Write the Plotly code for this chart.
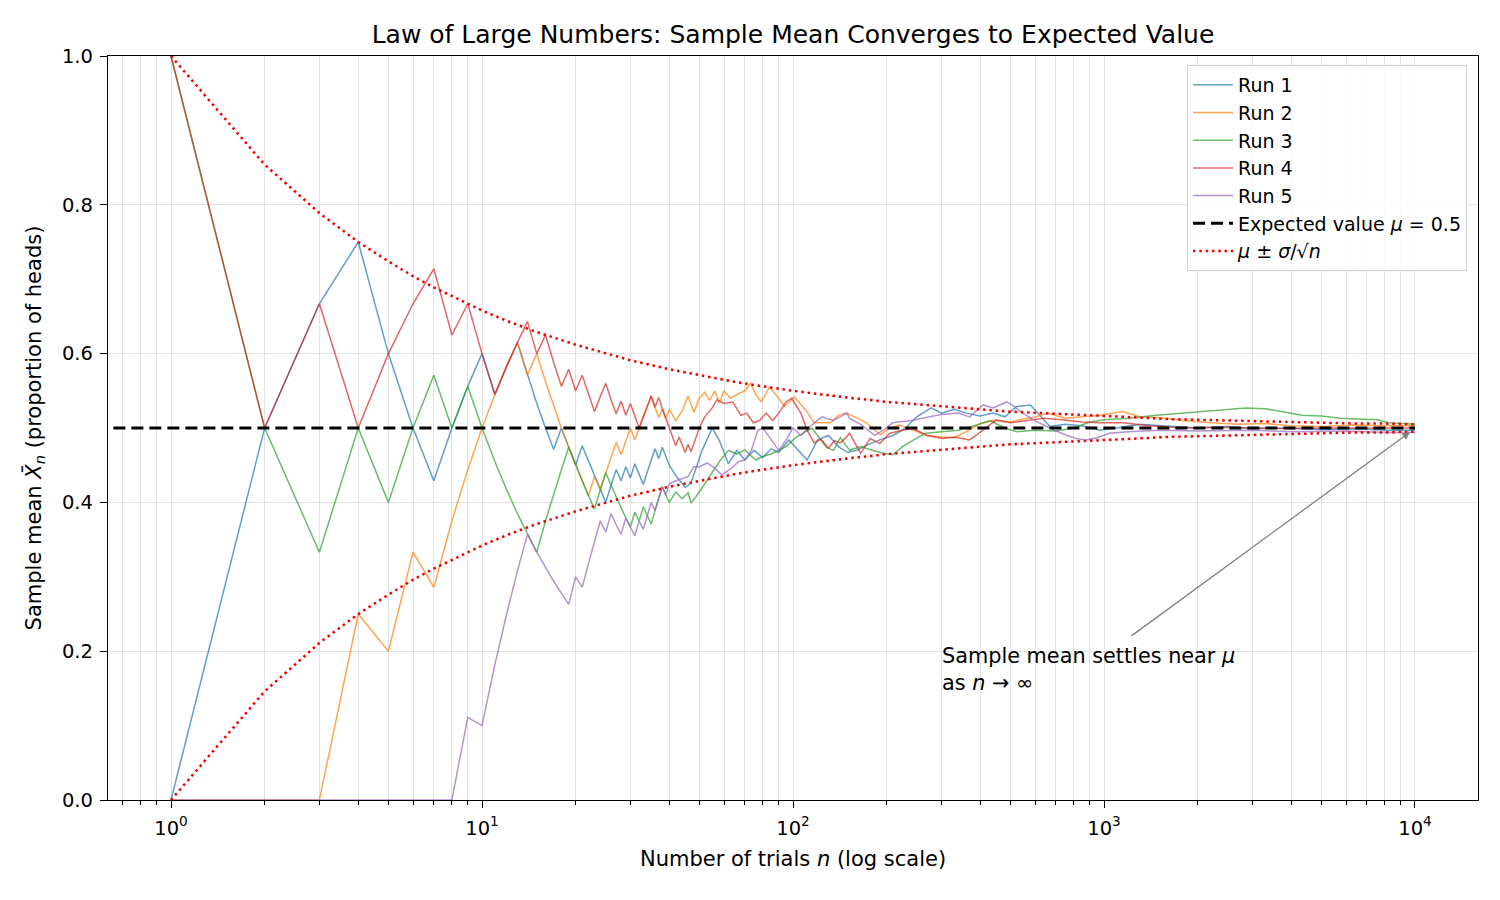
import plotly.graph_objects as go

# ---------------- data ----------------
run1 = [(1,0),(2,.5),(3,.667),(4,.75),(5,.6),(6,.5),(7,.429),(8,.5),(9,.556),(10,.6),
        (11,.545),(12,.583),(13,.615),(14,.571),(15,.533),(16,.5),(17,.471),(18,.5),(19,.474),(20,.45),
        (21,.476),(22,.455),(23,.435),(24,.417),(25,.4),(26,.423),(27,.444),(28,.429),(29,.448),(30,.433),
        (31,.452),(32,.438),(33,.424),(34,.441),(35,.457),(36,.472),(37,.459),(38,.474),(39,.462),(40,.45),
        (42,.436),(45,.42),(47,.426),(49,.449),(51,.47),(55,.5),(58,.483),(62,.452),(66,.47),(70,.457),
        (75,.47),(80,.46),(85,.472),(90,.467),(97,.484),(104,.47),(111,.457),(120,.484),(130,.49),(140,.475),
        (150,.467),(160,.47),(175,.478),(190,.484),(210,.49),(230,.5),(250,.515),(278,.527),(300,.52),(330,.525),
        (360,.52),(400,.516),(440,.52),(480,.515),(524,.529),(580,.531),(620,.518),(670,.502),(750,.505),(850,.503),
        (970,.497),(1100,.5),(1300,.505),(1600,.503),(2000,.5),(2500,.502),(3000,.499),(4000,.5),(5000,.498),
        (6500,.499),(8000,.497),(10000,.497)]

run2 = [(1,0),(2,0),(3,0),(4,.25),(5,.2),(6,.333),(7,.286),(8,.375),(9,.444),(10,.5),
        (11,.545),(12,.583),(13,.615),(14,.571),(15,.6),(16,.5625),(17,.529),(18,.5),(19,.474),(20,.45),
        (21,.429),(22,.409),(23,.435),(24,.417),(25,.44),(26,.462),(27,.481),(28,.464),(29,.483),(30,.5),
        (31,.484),(32,.5),(33,.515),(34,.529),(35,.543),(36,.528),(37,.514),(38,.526),(39,.513),(40,.525),
        (42,.51),(44,.523),(46,.543),(48,.521),(50,.54),(52,.548),(54,.537),(56,.55),(58,.534),(60,.55),
        (63,.54),(66,.545),(70,.55),(73,.56),(76,.545),(79,.535),(84,.555),(88,.545),(94,.529),(101,.542),
        (110,.524),(117,.507),(124,.507),(132,.507),(140,.517),(148,.52),(160,.514),(172,.507),(191,.491),(205,.5),
        (220,.504),(249,.495),(270,.49),(300,.488),(330,.487),(360,.495),(400,.506),(440,.51),(500,.508),(550,.512),
        (605,.515),(660,.52),(750,.513),(850,.515),(970,.517),(1150,.522),(1300,.515),(1500,.514),(1800,.51),
        (2200,.507),(2700,.505),(3300,.506),(4000,.503),(5000,.502),(6500,.504),(8000,.503),(10000,.503)]

run3 = [(1,1),(2,.5),(3,.333),(4,.5),(5,.4),(6,.5),(7,.571),(8,.5),(9,.556),(10,.5),
        (11,.455),(12,.417),(13,.385),(14,.357),(15,.333),(16,.375),(17,.412),(18,.444),(19,.474),(20,.45),
        (21,.429),(22,.409),(23,.391),(24,.417),(25,.44),(26,.423),(27,.407),(28,.393),(29,.379),(30,.367),
        (31,.387),(32,.375),(33,.394),(34,.382),(35,.371),(36,.389),(37,.405),(38,.421),(39,.41),(40,.4),
        (42,.414),(44,.405),(46,.413),(47,.399),(50,.414),(53,.43),(55,.44),(58,.455),(62,.47),(66,.465),
        (70,.471),(73,.463),(76,.457),(80,.462),(85,.465),(90,.47),(95,.475),(102,.487),(110,.495),(115,.5),
        (120,.49),(128,.474),(135,.47),(142,.487),(152,.47),(165,.475),(180,.47),(195,.466),(209,.464),(225,.475),
        (249,.486),(268,.493),(300,.495),(340,.497),(390,.504),(430,.51),(480,.5),(524,.495),(600,.497),(700,.496),
        (800,.5),(900,.508),(1000,.511),(1200,.513),(1475,.517),(1800,.52),(2150,.522),(2500,.525),(2860,.527),
        (3300,.526),(3700,.522),(4340,.517),(5000,.516),(5750,.513),(6500,.512),(7600,.511),(8200,.507),
        (9000,.506),(10000,.505)]

run4 = [(1,1),(2,.5),(3,.667),(4,.5),(5,.6),(6,.667),(7,.714),(8,.625),(9,.667),(10,.6),
        (11,.545),(12,.583),(13,.615),(14,.643),(15,.6),(16,.625),(17,.588),(18,.556),(19,.579),(20,.55),
        (21,.571),(22,.545),(23,.522),(24,.542),(25,.56),(26,.538),(27,.519),(28,.536),(29,.517),(30,.533),
        (31,.516),(32,.5),(33,.515),(34,.529),(35,.543),(36,.528),(37,.541),(38,.526),(39,.513),(40,.5),
        (41,.488),(42,.476),(43,.488),(44,.477),(45,.467),(46,.478),(47,.468),(48,.479),(49,.49),(50,.5),
        (52,.515),(55,.527),(57,.538),(60,.533),(64,.535),(68,.517),(71,.52),(74.5,.507),(78,.51),(82,.52),
        (86,.51),(90,.52),(95,.535),(99,.54),(106,.52),(111,.497),(117,.48),(123,.485),(130,.473),(136,.483),
        (142,.48),(148,.487),(152,.493),(165,.466),(177,.486),(190,.479),(205,.493),(242,.5),(270,.49),(303,.486),
        (330,.488),(370,.484),(408,.497),(450,.511),(500,.507),(560,.51),(640,.513),(735,.511),(850,.508),
        (970,.507),(1150,.507),(1400,.503),(1800,.5),(2300,.501),(3000,.5),(4000,.499),(5000,.5),(6500,.5),
        (8000,.499),(10000,.5)]

run5 = [(1,0),(2,0),(3,0),(4,0),(5,0),(6,0),(7,0),(8,0),(9,.111),(10,.1),
        (11,.182),(12,.25),(13,.308),(14,.357),(15,.333),(16,.3125),(17,.294),(18,.278),(19,.263),(20,.3),
        (21,.286),(22,.318),(23,.348),(24,.375),(25,.36),(26,.385),(27,.37),(28,.357),(29,.379),(30,.367),
        (31,.355),(32,.375),(33,.364),(34,.382),(35,.4),(36,.389),(37,.405),(38,.421),(39,.41),(40,.425),
        (42,.429),(44,.432),(46,.435),(48,.448),(50,.448),(53,.453),(56,.446),(59,.437),(63,.445),(67,.455),
        (70,.457),(73.5,.47),(77,.497),(80,.5),(85,.484),(90,.47),(95,.484),(100,.5),(106,.49),(112,.5),
        (118,.508),(124,.515),(135,.51),(149,.52),(152,.513),(165,.505),(183,.49),(195,.497),(209,.507),(240,.51),
        (275,.515),(300,.518),(340,.52),(370,.515),(408,.531),(440,.527),(487,.535),(510,.53),(548,.52),(600,.51),
        (670,.5),(740,.492),(812,.486),(875,.484),(950,.487),(1040,.493),(1200,.495),(1500,.497),(2000,.496),
        (3000,.497),(4000,.495),(6000,.496),(8000,.494),(10000,.494)]

bound_n = [1,2,3,4,5,6,7,8,9,10,12,15,20,25,30,40,50,65,80,100,130,160,200,250,320,400,500,650,800,
           1000,1300,1600,2000,2500,3200,4000,5000,6500,8000,10000]
bound_upper = [1.0,.854,.789,.75,.724,.704,.689,.677,.667,.658,.644,.629,.612,.6,.591,.579,.571,.562,.556,
               .55,.544,.54,.535,.532,.528,.525,.522,.52,.518,.516,.514,.512,.511,.51,.509,.508,.507,.506,.506,.505]
bound_lower = [0.0,.146,.211,.25,.276,.296,.311,.323,.333,.342,.356,.371,.388,.4,.409,.421,.429,.438,.444,
               .45,.456,.46,.465,.468,.472,.475,.478,.48,.482,.484,.486,.488,.489,.49,.491,.492,.493,.494,.494,.495]

expected_x = [0.5, 10000]
expected_y = [0.5, 0.5]

runs = [run1, run2, run3, run4, run5]
run_names = ["Run 1", "Run 2", "Run 3", "Run 4", "Run 5"]
run_colors = ["#1f77b4", "#ff7f0e", "#2ca02c", "#d62728", "#9467bd"]

x_major = [1, 10, 100, 1000, 10000]
x_major_text = ["10<sup>0</sup>", "10<sup>1</sup>", "10<sup>2</sup>", "10<sup>3</sup>", "10<sup>4</sup>"]
x_minor = [0.7, 0.8, 0.9] + [m * d for d in (1, 10, 100, 1000) for m in range(2, 10)]
y_ticks = [0, 0.2, 0.4, 0.6, 0.8, 1.0]

FONT = "DejaVu Sans"
GRID = "#e2e2e2"

fig = go.Figure()
for data, name, color in zip(runs, run_names, run_colors):
    fig.add_trace(go.Scatter(
        x=[p[0] for p in data], y=[p[1] for p in data], mode="lines", name=name,
        line=dict(color=color, width=1.5), opacity=0.7))

fig.add_trace(go.Scatter(
    x=expected_x, y=expected_y, mode="lines", name="Expected value <i>μ</i> = 0.5",
    line=dict(color="black", width=3, dash="12px,6px")))

fig.add_trace(go.Scatter(
    x=bound_n, y=bound_upper, mode="lines", name="<i>μ</i> ± <i>σ</i>/√<i>n</i>",
    line=dict(color="#ee0000", width=2.5, dash="2.5px,3.8px")))
fig.add_trace(go.Scatter(
    x=bound_n, y=bound_lower, mode="lines", showlegend=False,
    line=dict(color="#ee0000", width=2.5, dash="2.5px,3.8px")))

fig.update_layout(
    width=1500, height=900,
    margin=dict(l=108, r=22, t=56, b=100),
    paper_bgcolor="white", plot_bgcolor="white",
    font=dict(family=FONT, size=19, color="black"),
    title=dict(text="Law of Large Numbers: Sample Mean Converges to Expected Value",
               x=0.5, xref="paper", xanchor="center",
               y=1 - 34 / 900, yref="container", yanchor="middle",
               font=dict(family=FONT, size=25, color="black")),
    legend=dict(x=0.992, y=0.988, xanchor="right", yanchor="top",
                bgcolor="rgba(255,255,255,0.85)", bordercolor="#cccccc", borderwidth=1,
                font=dict(family=FONT, size=19, color="black"), tracegroupgap=0,
                itemwidth=40),
    showlegend=True,
)

fig.update_xaxes(
    type="log", range=[-0.2026, 4.2026],
    tickmode="array", tickvals=x_major, ticktext=x_major_text,
    ticks="outside", ticklen=7, tickwidth=1.2, tickcolor="black",
    showgrid=True, gridcolor=GRID, gridwidth=1.2,
    showline=True, linecolor="black", linewidth=1.3, mirror=True,
    zeroline=False, ticklabelstandoff=3,
    tickfont=dict(family=FONT, size=19.5),
    minor=dict(tickmode="array", tickvals=x_minor, ticks="outside", ticklen=4,
               tickwidth=1, tickcolor="black", showgrid=True, gridcolor=GRID, gridwidth=1.2),
    title=dict(text="Number of trials <i>n</i> (log scale)", font=dict(family=FONT, size=21),
               standoff=12),
)

fig.update_yaxes(
    range=[0, 1], tickmode="array", tickvals=y_ticks, tickformat=".1f",
    ticks="outside", ticklen=7, tickwidth=1.2, tickcolor="black",
    showgrid=True, gridcolor=GRID, gridwidth=1.2,
    showline=True, linecolor="black", linewidth=1.3, mirror=True,
    zeroline=False, ticklabelstandoff=3,
    tickfont=dict(family=FONT, size=19.5),
    title=dict(text="Sample mean <i>X\u0304</i><sub><i>n</i></sub> (proportion of heads)",
               font=dict(family=FONT, size=21), standoff=14),
)

# annotation: text and arrow
fig.add_annotation(
    x=0.6074, y=0.2123, xref="paper", yref="paper", xanchor="left", yanchor="top",
    align="left", showarrow=False,
    text="Sample mean settles near <i>μ</i><br>as <i>n</i> → ∞",
    font=dict(family=FONT, size=20.8, color="black"))
fig.add_annotation(
    x=3.984, y=0.4946, xref="x", yref="y",
    ax=3.0836, ay=0.2191, axref="x", ayref="y",
    text="", showarrow=True, arrowhead=2, arrowsize=1.2, arrowwidth=1.3,
    arrowcolor="gray", standoff=0, startstandoff=0)

fig.write_html("out.html")
